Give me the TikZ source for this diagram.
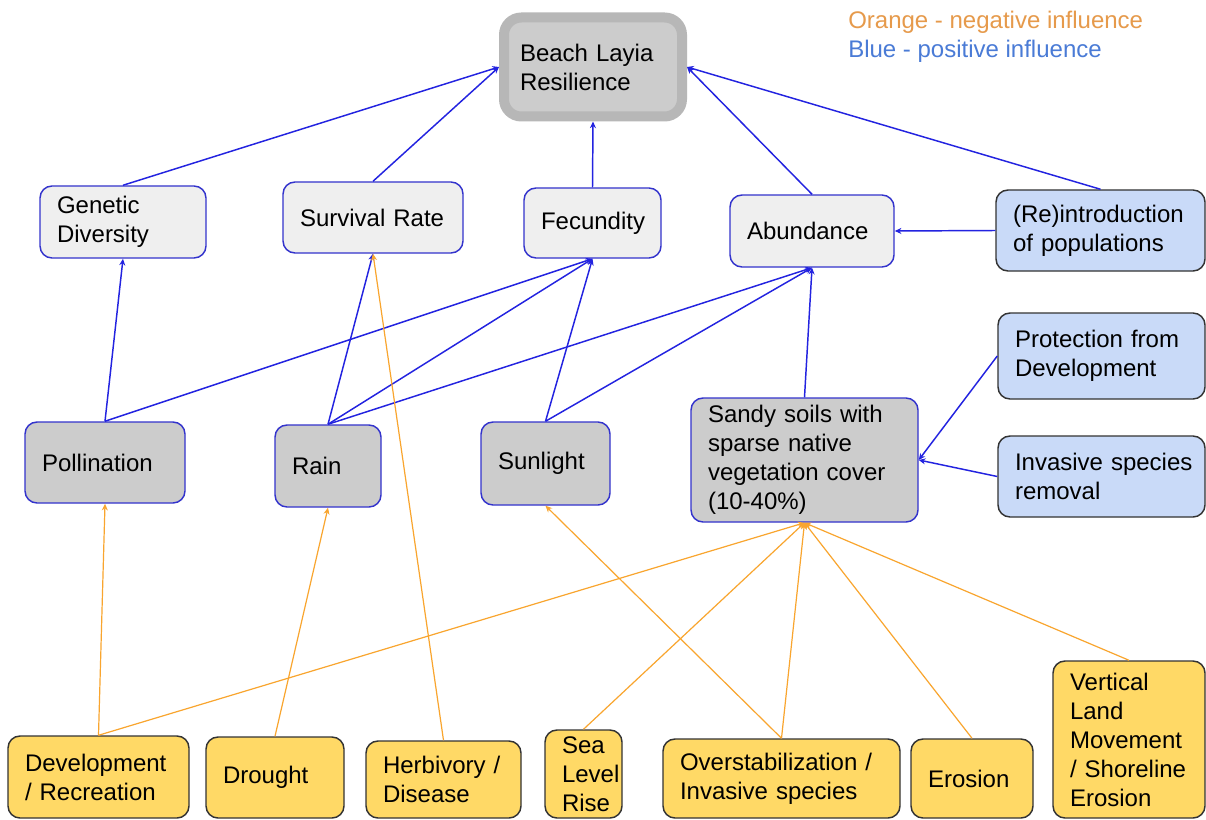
\documentclass[tikz,border=0pt]{standalone}
\usepackage{fontspec}
\setmainfont{Liberation Sans}
\usetikzlibrary{arrows.meta}
\definecolor{bline}{HTML}{2323E0}
\definecolor{oline}{HTML}{F9A52E}
\definecolor{gfill}{HTML}{CCCCCC}
\definecolor{lfill}{HTML}{EFEFEF}
\definecolor{bfill}{HTML}{C9DAF8}
\definecolor{yfill}{HTML}{FFD966}
\definecolor{bborder}{HTML}{3333CC}
\definecolor{dborder}{HTML}{333333}
\definecolor{beachb}{HTML}{B7B7B7}
\definecolor{legor}{HTML}{E69A4B}
\definecolor{legbl}{HTML}{4A7BD6}
\newcommand\mybox[7]{%
  \pgfmathsetmacro\mytw{0.75*(#4-#2-34)}%
  \pgfmathsetmacro\mymw{0.75*(#4-#2)}%
  \pgfmathsetmacro\mymh{0.75*(#5-#3)}%
  \node[#1, minimum width=\mymw pt, minimum height=\mymh pt, text width=\mytw pt]
    (#6) at ({(#2+#4)/2},{(#3+#5)/2}) {#7};}
\tikzset{
  basebox/.style={rounded corners=9pt, line width=1.1pt, inner sep=0pt, align=left,
    font=\fontsize{18}{21.75}\selectfont, text=black},
  graybox/.style={basebox, draw=bborder, fill=gfill},
  lightbox/.style={basebox, draw=bborder, fill=lfill},
  bluebox/.style={basebox, draw=dborder, fill=bfill},
  yelbox/.style={basebox, draw=dborder, fill=yfill},
  posedge/.style={draw=bline, line width=1.1pt, -{Stealth[length=5pt,width=4.5pt]}},
  negedge/.style={draw=oline, line width=0.9pt, -{Stealth[length=5pt,width=4.5pt]}},
}
\begin{document}
\begin{tikzpicture}[x=0.75pt,y=-0.75pt]
\useasboundingbox (0,0) rectangle (1206,820);
\fill[white] (0,0) rectangle (1206,820);
% legend
\node[anchor=base west, inner sep=0pt, text=legor, font=\fontsize{18}{21.75}\selectfont] (leg1) at (848,29) {Orange - negative influence};
\node[anchor=base west, inner sep=0pt, text=legbl, font=\fontsize{18}{21.75}\selectfont] (leg2) at (848,58) {Blue - positive influence};
% top node
\pgfmathsetmacro\mytw{0.75*(682-504-32)}
\node[basebox, rounded corners=13pt, draw=beachb, line width=7.5pt, fill=gfill,
  minimum width=133.5pt, minimum height=74.25pt, text width=\mytw pt] (beach) at (593,67)
  {Beach Layia\\Resilience};
% second row
\mybox{lightbox}{40}{186}{206}{258}{gen}{Genetic\\Diversity}
\mybox{lightbox}{283}{182}{463}{253}{surv}{Survival Rate}
\mybox{lightbox}{524}{188}{661}{258}{fec}{Fecundity}
\mybox{lightbox}{730}{195}{894}{267}{abund}{Abundance}
\mybox{bluebox}{996}{190}{1205}{271}{reintro}{\mbox{(Re)introduction}\\\mbox{of populations}}
\mybox{bluebox}{998}{313}{1205}{399}{prot}{\mbox{Protection from}\\Development}
\mybox{bluebox}{998}{436}{1205}{517}{inv}{\mbox{Invasive species}\\removal}
% third row
\mybox{graybox}{25}{422}{185}{503}{poll}{Pollination}
\mybox{graybox}{275}{425}{381}{507}{rain}{Rain}
\mybox{graybox}{481}{422}{610}{505}{sun}{Sunlight}
\mybox{graybox}{691}{398}{918}{522}{sandy}{\mbox{Sandy soils with}\\\mbox{sparse native}\\\mbox{vegetation cover}\\(10-40\%)}
% bottom row
\mybox{yelbox}{8}{736}{189}{818}{dev}{Development\\\mbox{/ Recreation}}
\mybox{yelbox}{206}{737}{344}{818}{drought}{Drought}
\mybox{yelbox}{366}{741}{521}{818}{herb}{\mbox{Herbivory /}\\Disease}
\mybox{yelbox}{545}{730}{622}{818}{sea}{Sea\\Level\\Rise}
\mybox{yelbox}{663}{739}{900}{818}{over}{\mbox{Overstabilization /}\\\mbox{Invasive species}}
\mybox{yelbox}{911}{739}{1033}{818}{eros}{Erosion}
\mybox{yelbox}{1053}{661}{1205}{818}{vert}{Vertical\\Land\\Movement\\\mbox{/ Shoreline}\\Erosion}
% positive influences
\draw[posedge] (gen.north) -- (beach.west);
\draw[posedge] (surv.north) -- (beach.west);
\draw[posedge] (fec.north) -- (beach.south);
\draw[posedge] (abund.north) -- (beach.east);
\draw[posedge] (reintro.north) -- (beach.east);
\draw[posedge] (reintro.west) -- (abund.east);
\draw[posedge] (poll.north) -- (gen.south);
\draw[posedge] (poll.north) -- (fec.south);
\draw[posedge] (rain.north) -- (surv.south);
\draw[posedge] (rain.north) -- (fec.south);
\draw[posedge] (rain.north) -- (abund.south);
\draw[posedge] (sun.north) -- (fec.south);
\draw[posedge] (sun.north) -- (abund.south);
\draw[posedge] (sandy.north) -- (abund.south);
\draw[posedge] (prot.west) -- (sandy.east);
\draw[posedge] (inv.west) -- (sandy.east);
% negative influences
\draw[negedge] (dev.north) -- (poll.south);
\draw[negedge] (dev.north) -- (sandy.south);
\draw[negedge] (drought.north) -- (rain.south);
\draw[negedge] (herb.north) -- (surv.south);
\draw[negedge] (sea.north) -- (sandy.south);
\draw[negedge] (over.north) -- (sun.south);
\draw[negedge] (over.north) -- (sandy.south);
\draw[negedge] (eros.north) -- (sandy.south);
\draw[negedge] (vert.north) -- (sandy.south);
\end{tikzpicture}
\end{document}
